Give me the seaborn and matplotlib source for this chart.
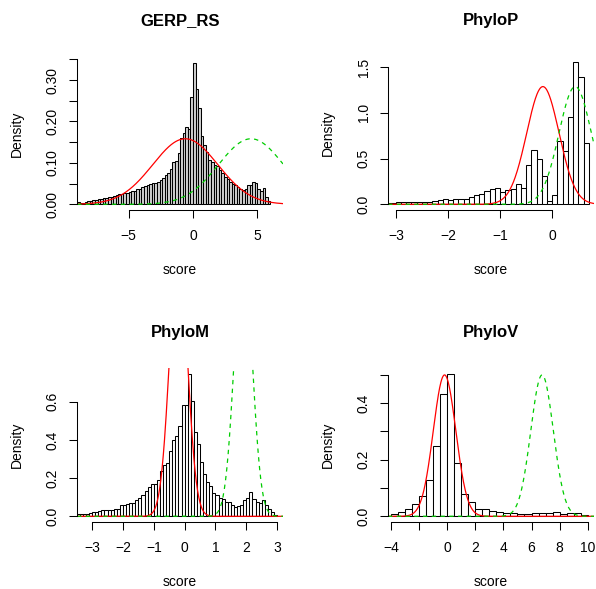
import numpy as np
import seaborn as sns
import matplotlib.pyplot as plt

# bin densities
gerp_start, gerp_width = -9.0, 0.2
gerp_density = [0.006, 0.004, 0.004, 0.005, 0.008, 0.008, 0.010, 0.010, 0.012, 0.012,
                0.015, 0.015, 0.017, 0.018, 0.021, 0.022, 0.024, 0.026, 0.027, 0.028,
                0.030, 0.031, 0.032, 0.036, 0.038, 0.042, 0.045, 0.047, 0.048, 0.052,
                0.052, 0.054, 0.059, 0.063, 0.070, 0.076,
                0.086, 0.101, 0.105, 0.124, 0.159, 0.172, 0.187, 0.183, 0.259, 0.342,
                0.278, 0.232, 0.166, 0.143, 0.126, 0.106, 0.101, 0.094, 0.092, 0.082,
                0.076, 0.065, 0.060, 0.054, 0.049, 0.046, 0.043, 0.038, 0.034, 0.038,
                0.046, 0.047, 0.055, 0.052, 0.038, 0.033, 0.040, 0.017, 0.007]

phylop_start, phylop_width = -3.2, 0.1
phylop_density = [0.018, 0.018, 0.022, 0.026, 0.026, 0.029, 0.026, 0.029, 0.029, 0.033,
                  0.044, 0.058, 0.051, 0.055, 0.062, 0.058, 0.077, 0.099, 0.110, 0.142,
                  0.172, 0.179, 0.135, 0.161, 0.172, 0.226, 0.179, 0.427, 0.599, 0.493,
                  0.310, 0.040, 0.099, 0.697, 0.580, 0.957, 1.559, 1.387, 0.665]

phylom_start, phylom_width = -3.5, 0.1
phylom_density = [0.011, 0.012, 0.012, 0.014, 0.019, 0.021, 0.021, 0.026, 0.032, 0.032,
                  0.032, 0.032, 0.037, 0.040, 0.061, 0.061, 0.067, 0.070, 0.072, 0.084,
                  0.096, 0.114, 0.133, 0.154, 0.167, 0.170, 0.189, 0.237, 0.268, 0.281,
                  0.344, 0.398, 0.421, 0.474, 0.584, 0.584, 0.747, 0.602, 0.439, 0.379,
                  0.286, 0.221, 0.181, 0.160, 0.123, 0.114, 0.098, 0.089, 0.075, 0.077,
                  0.058, 0.049, 0.054, 0.061, 0.084, 0.098, 0.125, 0.093, 0.075, 0.072,
                  0.084, 0.058, 0.040, 0.023, 0.009]

phylov_start, phylov_width = -4.0, 0.5
phylov_density = [0.009, 0.015, 0.027, 0.045, 0.072, 0.127, 0.249, 0.432, 0.503, 0.189,
                  0.080, 0.051, 0.027, 0.024, 0.018, 0.015, 0.013, 0.012, 0.009, 0.009,
                  0.011, 0.013, 0.013, 0.016, 0.007, 0.011, 0.012, 0.006]

# normal curves (mean, sd): red solid and green dashed
red_params = {'GERP_RS': (-0.6, 2.52), 'PhyloP': (-0.18, 0.31),
              'PhyloM': (-0.2, 0.287), 'PhyloV': (-0.18, 0.8)}
green_params = {'GERP_RS': (4.5, 2.52), 'PhyloP': (0.44, 0.31),
                'PhyloM': (1.9, 0.287), 'PhyloV': (6.75, 0.8)}

x_ticks = {'GERP_RS': [-5, 0, 5], 'PhyloP': [-3, -2, -1, 0],
           'PhyloM': [-3, -2, -1, 0, 1, 2, 3], 'PhyloV': [-4, -2, 0, 2, 4, 6, 8, 10]}
x_labels = {'GERP_RS': ['−5', '0', '5'], 'PhyloP': ['−3', '−2', '−1', '0'],
            'PhyloM': ['−3', '−2', '−1', '0', '1', '2', '3'],
            'PhyloV': ['−4', '', '0', '2', '4', '6', '8', '10']}
y_ticks = {'GERP_RS': [0, 0.05, 0.10, 0.15, 0.20, 0.25, 0.30, 0.35],
           'PhyloP': [0, 0.5, 1.0, 1.5], 'PhyloM': [0, 0.2, 0.4, 0.6],
           'PhyloV': [0, 0.1, 0.2, 0.3, 0.4, 0.5]}
y_labels = {'GERP_RS': ['0.00', '', '0.10', '', '0.20', '', '0.30', ''],
            'PhyloP': ['0.0', '0.5', '1.0', '1.5'], 'PhyloM': ['0.0', '0.2', '0.4', '0.6'],
            'PhyloV': ['0.0', '', '0.2', '', '0.4', '']}

sns.set_theme(style='ticks', rc={'axes.edgecolor': 'black', 'text.color': 'black',
                                 'xtick.color': 'black', 'ytick.color': 'black',
                                 'axes.labelcolor': 'black'})
plt.rcParams['font.family'] = ['Liberation Sans', 'DejaVu Sans']

W, H = 596, 589
fig = plt.figure(figsize=(W / 100, H / 100), dpi=100)

# (name, start, width, densities, region px [left, top, right, bottom], xlim)
panels = [
    ('GERP_RS', gerp_start, gerp_width, gerp_density, (77, 57, 283, 210), (-9.0, 6.98)),
    ('PhyloP', phylop_start, phylop_width, phylop_density, (388, 56, 594, 210), (-3.15, 0.80)),
    ('PhyloM', phylom_start, phylom_width, phylom_density, (77, 368, 283, 522), (-3.49, 3.19)),
    ('PhyloV', phylov_start, phylov_width, phylov_density, (388, 368, 594, 522), (-4.2, 10.44)),
]

for name, start, width, dens, (l, t, r, b), xlim in panels:
    ax = fig.add_axes([l / W, 1 - b / H, (r - l) / W, (b - t) / H])
    dens = np.array(dens)
    edges = start + width * np.arange(len(dens) + 1)
    centers = edges[:-1] + width / 2
    # the narrow GERP bars look grey in the original
    face = '#d0d0d0' if name == 'GERP_RS' else 'white'
    sns.histplot(x=centers, weights=dens, bins=list(edges), stat='count', ax=ax,
                 color=face, edgecolor='black', linewidth=0.75, alpha=1)

    xs = np.linspace(xlim[0], xlim[1], 500)
    mu, sd = red_params[name]
    sns.lineplot(x=xs, y=np.exp(-(xs - mu) ** 2 / (2 * sd ** 2)) / (sd * np.sqrt(2 * np.pi)),
                 color='#FF0000', linewidth=0.9, ax=ax)
    mu, sd = green_params[name]
    sns.lineplot(x=xs, y=np.exp(-(xs - mu) ** 2 / (2 * sd ** 2)) / (sd * np.sqrt(2 * np.pi)),
                 color='#00CD00', linewidth=0.9, linestyle=(0, (3.5, 3.5)), ax=ax)

    ymax = dens.max()
    ax.set_xlim(*xlim)
    ax.set_ylim(-0.04 * ymax, 1.04 * ymax)

    ax.set_xticks(x_ticks[name])
    ax.set_xticklabels(x_labels[name], fontsize=10)
    ax.set_yticks(y_ticks[name])
    ax.set_yticklabels(y_labels[name], fontsize=10, rotation=90, va='center')
    ax.tick_params(direction='out', length=5.5, width=0.75)
    ax.tick_params(axis='x', pad=8)
    ax.tick_params(axis='y', pad=7)

    sns.despine(ax=ax)
    ax.spines['left'].set_bounds(y_ticks[name][0], y_ticks[name][-1])
    ax.spines['bottom'].set_bounds(x_ticks[name][0], x_ticks[name][-1])
    for s in ('left', 'bottom'):
        ax.spines[s].set_linewidth(0.75)

    ax.set_xlabel('score', fontsize=10)
    ax.xaxis.set_label_coords(0.5, -60 / (b - t))
    ax.xaxis.label.set_va('center')
    ax.set_ylabel('Density', fontsize=10)
    ax.yaxis.set_label_coords(-0.29, 0.5)
    ax.yaxis.label.set_va('center')

    ax.text(0.5, 1 + 36 / (b - t), name, transform=ax.transAxes, ha='center',
            va='center', fontsize=12, fontweight='bold')

fig.savefig('out.png', dpi=100)
